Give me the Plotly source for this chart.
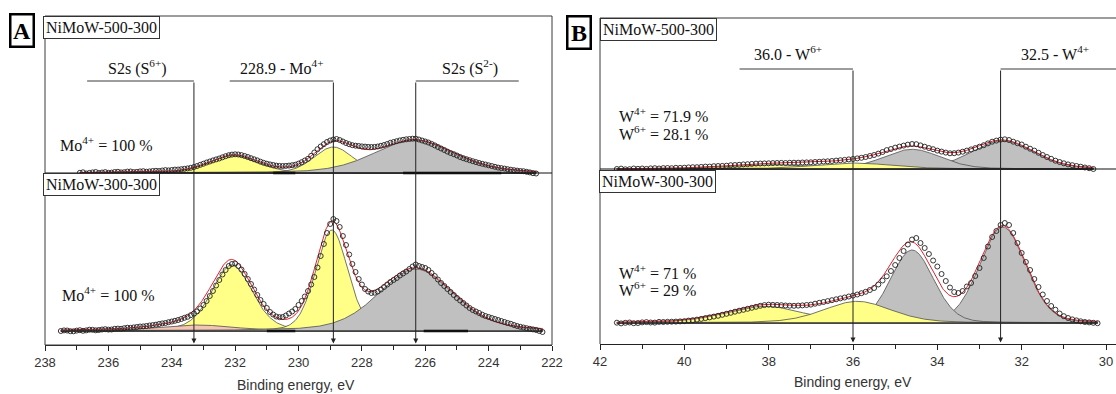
import numpy as np
import plotly.graph_objects as go

W, H = 1116, 394

# ---------------- measured spectra (intensity above each spectrum's baseline, a.u.) ----------------
A_step = 0.1
A_bottom_start = 237.5
A_bottom_counts = [
    0.0, 0.6, 0.5, -0.2, -0.3, 0.4, 0.8, 0.2, 0.6, 1.3, 1.2, 0.7, 1.0, 1.5, 1.8, 1.4, 1.5, 2.2, 2.4, 2.2,
    2.8, 3.3, 3.2, 3.6, 4.0, 4.5, 4.6, 5.0, 5.5, 5.9, 6.3, 7.0, 7.6, 8.0, 8.8, 9.5, 10.2, 11.0, 12.0, 13.2,
    14.2, 15.8, 17.5, 19.6, 22.5, 26.0, 30.0, 35.0, 40.0, 45.5, 51.0, 56.5, 61.0, 65.0, 67.0, 67.5, 65.0,
    61.5, 57.0, 52.0, 47.0, 41.5, 36.0, 31.0, 27.0, 23.0, 19.0, 16.5, 14.5, 13.8, 14.0, 15.5, 17.5, 19.5,
    22.0, 26.0, 30.0, 34.5, 40.0, 46.5, 54.0, 63.5, 75.0, 87.0, 98.0, 107.0, 112.0, 110.0, 104.0, 95.0,
    86.0, 76.5, 67.0, 59.0, 52.0, 46.5, 42.0, 39.5, 38.0, 38.3, 39.5, 41.5, 44.0, 46.5, 49.0, 51.0, 53.0,
    55.5, 57.5, 59.5, 62.0, 64.5, 66.5, 65.0, 64.0, 63.0, 61.0, 58.0, 55.0, 51.5, 48.0, 45.0, 42.0, 39.0,
    36.0, 33.0, 30.5, 28.0, 25.5, 23.0, 21.0, 19.5, 18.0, 16.3, 15.0, 14.0, 13.0, 12.0, 11.0, 10.0, 9.0,
    8.0, 7.2, 6.0, 5.0, 4.2, 3.5, 2.8, 2.2, 1.6, 1.0, 0.0, -1.0]
A_top_start = 236.9
A_top_counts = [
    0.2, 0.7, -0.5, 0.1, 0.6, 1.0, 0.0, 0.5, 0.9, 0.2, 0.4, 1.0, 1.2, 0.6, 0.8, 1.4, 1.5, 0.9, 1.1, 1.6,
    1.8, 1.3, 1.6, 2.0, 2.2, 2.0, 2.5, 2.9, 2.6, 3.0, 3.4, 3.5, 3.8, 4.2, 4.6, 5.2, 6.0, 7.0, 8.2, 9.3,
    10.5, 11.5, 12.6, 13.6, 14.5, 15.7, 16.8, 17.8, 18.4, 18.7, 18.5, 17.9, 17.0, 16.0, 14.8, 13.7, 12.6,
    11.3, 10.2, 9.3, 8.6, 8.0, 7.4, 7.1, 7.0, 7.1, 7.4, 7.8, 8.3, 9.4, 10.8, 12.5, 14.2, 17.2, 20.5, 23.8,
    26.5, 28.8, 31.0, 32.5, 33.5, 34.0, 33.0, 31.5, 30.0, 28.8, 27.8, 27.3, 27.0, 26.6, 26.4, 26.1, 26.0,
    26.1, 26.5, 27.2, 28.0, 29.0, 30.2, 31.0, 31.8, 32.6, 33.2, 33.7, 34.0, 34.3, 34.3, 33.5, 32.5, 31.5,
    30.5, 29.1, 27.6, 26.0, 24.5, 23.0, 21.4, 20.0, 18.8, 17.5, 16.0, 14.8, 13.8, 12.8, 11.8, 10.9, 10.0,
    9.2, 8.5, 7.7, 7.0, 6.2, 5.4, 4.9, 4.4, 3.8, 3.3, 2.8, 2.4, 2.0, 1.8, 1.2, 0.6, -0.2, -0.5]
B_step = 0.1
B_bottom_start = 41.6
B_bottom_counts = [
    0.3, -0.4, 0.2, 0.5, -0.2, 0.0, 0.6, 0.9, 0.5, 0.4, 1.1, 1.0, 1.2, 1.3, 1.4, 1.6, 1.8, 2.4, 2.8, 3.4,
    4.1, 4.9, 5.6, 6.4, 7.2, 8.2, 9.2, 10.2, 11.3, 12.3, 13.2, 14.2, 15.2, 16.2, 17.2, 17.9, 18.3, 18.1,
    18.0, 17.8, 17.5, 17.3, 17.2, 17.4, 17.6, 18.0, 18.4, 19.3, 20.2, 21.0, 21.9, 22.8, 23.7, 24.6, 25.5,
    26.5, 27.4, 28.5, 29.8, 31.2, 33.0, 35.0, 38.5, 42.5, 46.7, 52.0, 58.0, 65.0, 72.0, 78.5, 83.5, 85.0,
    80.0, 75.0, 69.0, 62.5, 56.5, 49.0, 42.0, 35.5, 31.0, 30.0, 32.0, 36.5, 40.0, 47.0, 55.0, 65.0, 76.5,
    86.0, 92.0, 98.0, 100.0, 98.0, 90.0, 80.0, 70.0, 61.0, 53.0, 44.0, 36.0, 28.5, 22.0, 17.0, 13.3, 9.5,
    6.8, 5.0, 3.6, 2.6, 1.7, 1.0, 0.6, 0.2, -0.2]
B_top_start = 41.6
B_top_counts = [
    0.0, 0.4, -0.3, -0.2, 0.5, 0.2, 0.5, 0.1, 0.6, 0.8, 0.5, 0.9, 1.0, 0.8, 1.2, 1.1, 1.3, 1.6, 1.8, 1.8,
    2.1, 2.4, 2.4, 2.8, 3.0, 3.1, 3.3, 3.8, 4.0, 4.2, 4.6, 4.8, 5.1, 5.4, 5.5, 5.6, 5.7, 5.9, 6.0, 6.1,
    6.0, 6.2, 6.3, 6.3, 6.5, 6.6, 6.7, 7.0, 7.2, 7.5, 7.7, 8.0, 8.4, 8.8, 9.1, 9.6, 10.0, 10.6, 11.2, 12.0,
    13.0, 14.0, 15.4, 17.0, 18.9, 20.0, 21.4, 22.4, 23.4, 24.4, 25.0, 24.8, 23.6, 22.3, 21.0, 19.8, 18.4,
    17.4, 16.4, 15.7, 15.8, 16.4, 17.3, 18.4, 19.6, 20.9, 22.3, 23.8, 25.6, 27.3, 28.4, 29.4, 29.7, 29.0,
    27.3, 25.8, 24.5, 22.3, 20.3, 18.4, 16.2, 14.0, 12.0, 10.2, 8.3, 7.0, 5.7, 4.6, 3.8, 3.0, 2.3, 1.5,
    0.8, 0.0]

# ---------------- fitted components: centre (eV), height, FWHM (eV), Lorentzian fraction ----------------
YEL, GRY, PNK = "#ffff88", "#c0c0c0", "#f5c5b3"
A_bottom_centers = [232.1, 228.95, 233.2, 226.3]
A_bottom_heights = [66, 101, 6, 62]
A_bottom_fwhm = [1.5, 1.2, 2.8, 2.8]
A_bottom_lfrac = [0.3, 0.2, 0.3, 0.3]
A_bottom_colors = [YEL, YEL, PNK, GRY]
A_bottom_zero_centers = [230.55, 225.35]
A_bottom_zero_widths = [0.9, 1.4]

A_top_centers = [232.05, 228.9, 226.35]
A_top_heights = [17.5, 26, 33]
A_top_fwhm = [1.8, 1.45, 3.0]
A_top_lfrac = [0.3, 0.2, 0.3]
A_top_colors = [YEL, YEL, GRY]
A_top_zero_centers = [230.45, 225.15]
A_top_zero_widths = [0.7, 3.1]

B_bottom_centers = [32.45, 34.6, 38.1, 35.9]
B_bottom_heights = [96, 73, 16.7, 21.7]
B_bottom_fwhm = [1.3, 1.2, 2.2, 1.9]
B_bottom_lfrac = [0.15, 0.15, 0.3, 0.3]
B_bottom_colors = [GRY, GRY, YEL, YEL]

B_top_centers = [32.45, 34.6, 38.0, 36.0]
B_top_heights = [28.3, 19.7, 4.5, 6.0]
B_top_fwhm = [1.75, 1.6, 2.4, 2.2]
B_top_lfrac = [0.2, 0.2, 0.3, 0.3]
B_top_colors = [GRY, GRY, YEL, YEL]

# ---------------- labels ----------------
A_peak_labels = ["S2s (S<sup>6+</sup>)", "228.9 - Mo<sup>4+</sup>", "S2s (S<sup>2-</sup>)"]
A_peak_pos = [233.3, 228.9, 226.3]
B_peak_labels = ["36.0 - W<sup>6+</sup>", "32.5 - W<sup>4+</sup>"]
B_peak_pos = [36.0, 32.5]
samples = ["NiMoW-500-300", "NiMoW-300-300"]
A_ratio_top = ["Mo<sup>4+</sup> = 100 %"]
A_ratio_bottom = ["Mo<sup>4+</sup> = 100 %"]
B_ratio_top = ["W<sup>4+</sup> = 71.9 %", "W<sup>6+</sup> = 28.1 %"]
B_ratio_bottom = ["W<sup>4+</sup> = 71 %", "W<sup>6+</sup> = 29 %"]
x_title = "Binding energy, eV"

# ---------------- layout constants (pixels) ----------------
A_left, A_right, A_top_px, A_axis_px = 45, 552, 16, 345
B_left, B_top_px, B_axis_px = 600, 18, 344
A_top_off, A_bot_off = 172, 14
B_top_off, B_bot_off = 175, 21

SERIF = "Liberation Serif"
SANS = "Liberation Sans"


def pv(E, c, h, w, l):
    x = (E - c) / w
    return h * ((1 - l) * np.exp(-4 * np.log(2) * x * x) + l / (1 + 4 * x * x))


fig = go.Figure()


def add_spectrum(xa, ya, start, step, counts, off, centers, heights, fwhm, lfrac, colors,
                 zc=(), zw=()):
    counts = np.asarray(counts, float)
    E = start - step * np.arange(len(counts))
    grid = np.linspace(E[0], E[-1], 700)
    env = np.zeros_like(grid)
    for c, h, w, l, col in zip(centers, heights, fwhm, lfrac, colors):
        y = pv(grid, c, h, w, l)
        env += y
        fig.add_trace(go.Scatter(
            x=np.concatenate([grid, grid[::-1]]),
            y=np.concatenate([off + y, np.full_like(grid, off)]),
            fill="toself", fillcolor=col, mode="lines",
            line=dict(color="#505050", width=0.8),
            xaxis=xa, yaxis=ya, hoverinfo="skip", showlegend=False))
    for c, w in zip(zc, zw):
        fig.add_trace(go.Scatter(x=[c + w / 2, c - w / 2], y=[off, off], mode="lines",
                                 line=dict(color="black", width=2.5),
                                 xaxis=xa, yaxis=ya, hoverinfo="skip", showlegend=False))
    fig.add_trace(go.Scatter(x=[E[0], E[-1]], y=[off, off], mode="lines",
                             line=dict(color="#222", width=1),
                             xaxis=xa, yaxis=ya, hoverinfo="skip", showlegend=False))
    fig.add_trace(go.Scatter(x=grid, y=off + env, mode="lines",
                             line=dict(color="#e3202b", width=1),
                             xaxis=xa, yaxis=ya, hoverinfo="skip", showlegend=False))
    fig.add_trace(go.Scatter(x=E, y=off + counts, mode="markers",
                             marker=dict(symbol="circle-open", size=5,
                                         line=dict(color="#222", width=0.9), color="#222"),
                             xaxis=xa, yaxis=ya, hoverinfo="skip", showlegend=False,
                             cliponaxis=False))


add_spectrum("x", "y", A_top_start, A_step, A_top_counts, A_top_off, A_top_centers,
             A_top_heights, A_top_fwhm, A_top_lfrac, A_top_colors, A_top_zero_centers, A_top_zero_widths)
add_spectrum("x", "y", A_bottom_start, A_step, A_bottom_counts, A_bot_off, A_bottom_centers,
             A_bottom_heights, A_bottom_fwhm, A_bottom_lfrac, A_bottom_colors,
             A_bottom_zero_centers, A_bottom_zero_widths)
add_spectrum("x2", "y2", B_top_start, B_step, B_top_counts, B_top_off, B_top_centers,
             B_top_heights, B_top_fwhm, B_top_lfrac, B_top_colors)
add_spectrum("x2", "y2", B_bottom_start, B_step, B_bottom_counts, B_bot_off, B_bottom_centers,
             B_bottom_heights, B_bottom_fwhm, B_bottom_lfrac, B_bottom_colors)

B_px_per_eV = (1106 - B_left) / 12.0
B_range_end = 42 - (W - B_left) / B_px_per_eV

axis_common = dict(showline=True, linecolor="#222", linewidth=1.2, ticks="outside", ticklen=5,
                   tickcolor="#222", tickwidth=1, dtick=2, showgrid=False, zeroline=False,
                   automargin=False,
                   tickfont=dict(family=SANS, size=13, color="#333"),
                   minor=dict(dtick=1, ticks="outside", ticklen=4, tickcolor="#222", showgrid=False))
fig.update_layout(
    width=W, height=H, margin=dict(l=0, r=0, t=0, b=0, pad=0, autoexpand=False),
    paper_bgcolor="white", plot_bgcolor="rgba(0,0,0,0)", showlegend=False,
    xaxis=dict(domain=[A_left / W, A_right / W], range=[238, 222], anchor="y", **axis_common),
    yaxis=dict(domain=[(H - A_axis_px) / H, (H - A_top_px) / H], range=[0, A_axis_px - A_top_px],
               visible=False, automargin=False),
    xaxis2=dict(domain=[B_left / W, 1], range=[42, B_range_end], anchor="y2", tick0=30,
                **axis_common),
    yaxis2=dict(domain=[(H - B_axis_px) / H, (H - B_top_px) / H], range=[0, B_axis_px - B_top_px],
                visible=False, anchor="x2", automargin=False),
)

shapes = []
LC = "#3a3a3a"
# panel frames
shapes.append(dict(type="rect", xref="paper", yref="paper", x0=A_left / W, x1=A_right / W,
                   y0=(H - A_axis_px) / H, y1=(H - A_top_px) / H, line=dict(color=LC, width=1),
                   layer="above"))
shapes.append(dict(type="line", xref="paper", yref="paper", x0=B_left / W, x1=B_left / W,
                   y0=(H - B_axis_px) / H, y1=(H - B_top_px) / H, line=dict(color=LC, width=1)))
shapes.append(dict(type="line", xref="paper", yref="paper", x0=B_left / W, x1=1,
                   y0=(H - B_top_px) / H, y1=(H - B_top_px) / H, line=dict(color=LC, width=1)))
# dividers (= baseline of upper spectrum)
shapes.append(dict(type="line", xref="x domain", yref="y", x0=0, x1=1, y0=A_top_off, y1=A_top_off,
                   line=dict(color="#111", width=1.2)))
shapes.append(dict(type="line", xref="x2 domain", yref="y2", x0=0, x1=1, y0=B_top_off, y1=B_top_off,
                   line=dict(color="#111", width=1.2)))

annotations = []
# peak markers with leader lines
A_lead_y = 264
A_lead_spans = [(236.67, 233.3), (232.17, 228.9), (226.3, 223.05)]
A_label_x = [235.07, 230.54, 224.59]
for lab, pos, span, lx in zip(A_peak_labels, A_peak_pos, A_lead_spans, A_label_x):
    shapes.append(dict(type="line", xref="x", yref="y", x0=span[0], x1=span[1], y0=A_lead_y,
                       y1=A_lead_y, line=dict(color=LC, width=1)))
    annotations.append(dict(x=pos, y=1.5, xref="x", yref="y", ax=pos, ay=A_lead_y, axref="x",
                            ayref="y", text="", showarrow=True, arrowhead=2, arrowsize=1,
                            arrowwidth=1, arrowcolor="#222", standoff=0, startstandoff=0))
    annotations.append(dict(x=lx, y=278, xref="x", yref="y", text=lab, showarrow=False,
                            xanchor="center", yanchor="middle",
                            font=dict(family=SERIF, size=16, color="#111")))
B_lead_y = 275
B_lead_spans = [(38.69, 36.0), (32.5, B_range_end)]
B_label_x = [37.54, 31.21]
for lab, pos, span, lx in zip(B_peak_labels, B_peak_pos, B_lead_spans, B_label_x):
    shapes.append(dict(type="line", xref="x2", yref="y2", x0=span[0], x1=span[1], y0=B_lead_y,
                       y1=B_lead_y, line=dict(color=LC, width=1)))
    annotations.append(dict(x=pos, y=1.5, xref="x2", yref="y2", ax=pos, ay=B_lead_y, axref="x2",
                            ayref="y2", text="", showarrow=True, arrowhead=2, arrowsize=1,
                            arrowwidth=1, arrowcolor="#222", standoff=0, startstandoff=0))
    annotations.append(dict(x=lx, y=291, xref="x2", yref="y2", text=lab, showarrow=False,
                            xanchor="center", yanchor="middle",
                            font=dict(family=SERIF, size=16, color="#111")))


# ratio texts
def ratio_texts(lines, xr, yr, x, ys):
    for t, yy in zip(lines, ys):
        annotations.append(dict(x=x, y=yy, xref=xr, yref=yr, text=t, showarrow=False,
                                xanchor="left", yanchor="middle",
                                font=dict(family=SERIF, size=16, color="#111")))


ratio_texts(A_ratio_top, "x", "y", 237.6, [201])
ratio_texts(A_ratio_bottom, "x", "y", 237.53, [51])
ratio_texts(B_ratio_top, "x2", "y2", 41.6, [229, 211])
ratio_texts(B_ratio_bottom, "x2", "y2", 41.6, [72, 55])

# sample boxes
for name, xpx, ypx in [(samples[0], 43, 16), (samples[1], 43, 173), (samples[0], 600, 18),
                       (samples[1], 599, 170)]:
    annotations.append(dict(x=xpx / W, y=1 - ypx / H, xref="paper", yref="paper", text=name,
                            showarrow=False, xanchor="left", yanchor="top", bgcolor="white",
                            bordercolor="#333", borderwidth=1, borderpad=2,
                            font=dict(family=SERIF, size=16, color="#111")))

# panel letters
for letter, xc, yc in [("A", 22, 30), ("B", 578.5, 32)]:
    annotations.append(dict(x=xc / W, y=1 - yc / H, xref="paper", yref="paper",
                            xanchor="center", yanchor="middle",
                            text="<b>%s</b>" % letter, showarrow=False, width=19, height=28,
                            bordercolor="black", borderwidth=2.5, borderpad=1, bgcolor="white",
                            font=dict(family=SERIF, size=24, color="black")))

# axis titles
for xc, yc in [(296, 385), (853, 382)]:
    annotations.append(dict(x=xc / W, y=1 - yc / H, xref="paper", yref="paper", text=x_title,
                            xanchor="center", yanchor="middle",
                            showarrow=False, font=dict(family=SANS, size=14, color="#333")))

fig.update_layout(shapes=shapes, annotations=annotations)
fig.write_html("out.html")
